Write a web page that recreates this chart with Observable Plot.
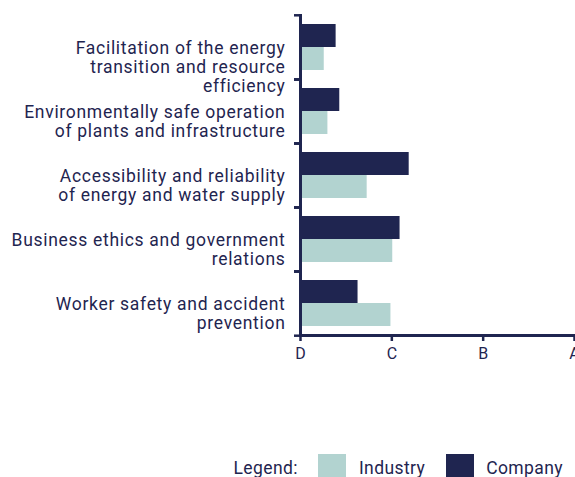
<!DOCTYPE html>
<html>
<head>
<meta charset="utf-8">
<script src="https://cdn.jsdelivr.net/npm/d3@7"></script>
<script src="https://cdn.jsdelivr.net/npm/@observablehq/plot@0.6"></script>
<style>
  html, body { margin: 0; padding: 0; background: #fff; width: 575px; height: 477px; overflow: hidden; }
  #chart svg { display: block; }
  #chart svg g[aria-label="fy-axis tick label"] text { letter-spacing: 0.7px; }
  .legend { display: flex; align-items: center; justify-content: flex-end; padding-right: 12px; margin-top: 4px;
    font-family: Roboto, sans-serif; font-size: 17.5px; letter-spacing: 0.4px; color: #1f2550; }
  .legend .sw { width: 28px; height: 28px; margin-right: 13px; }
  .legend .lab { margin-right: 21px; }
  .legend .lab:last-child { margin-right: 0; }
</style>
</head>
<body>
<div id="chart"></div>
<div class="legend" id="legend"></div>
<script>
const categories = [
  "Facilitation of the energy\ntransition and resource\nefficiency",
  "Environmentally safe operation\nof plants and infrastructure",
  "Accessibility and reliability\nof energy and water supply",
  "Business ethics and government\nrelations",
  "Worker safety and accident\nprevention"
];
const grades = ["D", "C", "B", "A"];
const series = ["Company", "Industry"];
const company = [0.39, 0.43, 1.19, 1.09, 0.63];
const industry = [0.26, 0.30, 0.73, 1.01, 0.99];

const navy = "#1f2550";
const teal = "#b2d3d0";

const data = categories.flatMap((c, i) => [
  {category: c, series: "Company", value: company[i]},
  {category: c, series: "Industry", value: industry[i]}
]);

const W = 575, H = 450, mTop = 14, mBottom = 114;
const half = (H - mTop - mBottom) / categories.length / 2;

const plot = Plot.plot({
  width: W,
  height: H,
  marginTop: mTop,
  marginBottom: mBottom,
  marginLeft: 300,
  marginRight: 1,
  style: {fontFamily: "Roboto, sans-serif", color: navy, background: "#fff", overflow: "visible"},
  x: {domain: [0, 3], axis: null},
  fy: {domain: categories, padding: 0, axis: null},
  y: {domain: series, paddingInner: 0, paddingOuter: 0.37, axis: null},
  color: {domain: series, range: [navy, teal]},
  marks: [
    Plot.barX(data, {fy: "category", y: "series", x: "value", fill: "series"}),
    Plot.frame({anchor: "left", stroke: navy, strokeWidth: 3}),
    Plot.frame({anchor: "bottom", facetAnchor: "bottom", stroke: navy, strokeWidth: 3}),
    Plot.axisFy({anchor: "left", tickSize: 0, tickPadding: 15, fontSize: 17.5, lineHeight: 1.086,
      lineAnchor: "top", dy: -7, textAnchor: "end", label: null, fill: navy}),
    Plot.axisFy({anchor: "left", tickSize: 6, fill: "none", dy: -half, stroke: navy, strokeWidth: 2.5, label: null}),
    Plot.axisFy([categories[categories.length - 1]], {anchor: "left", tickSize: 6, fill: "none", dy: half, stroke: navy, strokeWidth: 2.5, label: null}),
    Plot.axisX({ticks: [0, 1, 2, 3], tickFormat: d => grades[d], tickSize: 6, tickPadding: 6,
      fontSize: 16, stroke: navy, strokeWidth: 2.5, fill: navy, label: null})
  ]
});
document.getElementById("chart").append(plot);

const legend = document.getElementById("legend");
const lg = document.createElement("span");
lg.className = "lab";
lg.style.marginRight = "20px";
lg.textContent = "Legend:";
legend.append(lg);
const colorScale = plot.scale("color");
["Industry", "Company"].forEach((s, i) => {
  const sw = document.createElement("span");
  sw.className = "sw";
  sw.style.background = colorScale.range[colorScale.domain.indexOf(s)];
  if (i === 1) sw.style.marginRight = "12px";
  legend.append(sw);
  const t = document.createElement("span");
  t.className = "lab";
  t.textContent = s;
  legend.append(t);
});
</script>
</body>
</html>
